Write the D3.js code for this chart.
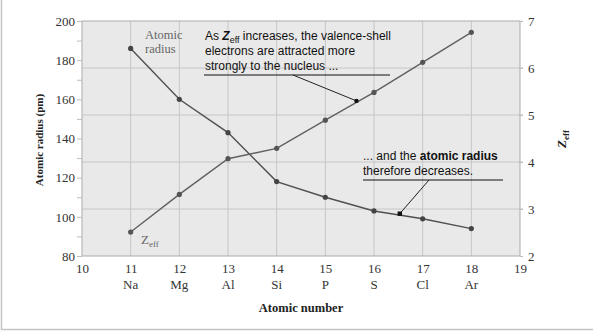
<!DOCTYPE html>
<html><head><meta charset="utf-8">
<script src="https://cdn.jsdelivr.net/npm/d3@7"></script>
<style>
html,body{margin:0;padding:0;background:#fff;}
svg{display:block;}
.tk text{font-family:'Liberation Serif','DejaVu Serif',serif;font-size:13px;fill:#333;}
</style></head>
<body>
<svg id="chart" width="593" height="331"></svg>
<script>
const atomicNumbers = [11, 12, 13, 14, 15, 16, 17, 18];
const symbols = ["Na", "Mg", "Al", "Si", "P", "S", "Cl", "Ar"];
const atomicRadius = [186, 160, 143, 118, 110, 103, 99, 94];
const zeff = [2.51, 3.31, 4.07, 4.29, 4.89, 5.48, 6.12, 6.76];
const xTicks = [10, 11, 12, 13, 14, 15, 16, 17, 18, 19];
const radiusTicks = [80, 100, 120, 140, 160, 180, 200];
const zeffTicks = [2, 3, 4, 5, 6, 7];

const svg = d3.select("#chart");
const m = {l: 82, r: 520, t: 21, b: 256};
const serif = "'Liberation Serif','DejaVu Serif',serif";
const sans = "'Liberation Sans',Arial,sans-serif";

const x = d3.scaleLinear().domain([10, 19]).range([m.l, m.r]);
const yR = d3.scaleLinear().domain([80, 200]).range([m.b, m.t]);
const yZ = d3.scaleLinear().domain([2, 7]).range([m.b, m.t]);

// outer frame
svg.append("rect").attr("x", 1.5).attr("y", -5).attr("width", 600).attr("height", 334.5)
  .attr("fill", "none").attr("stroke", "#c4c4c4").attr("stroke-width", 1.5);

// plot bg
svg.append("rect").attr("x", m.l).attr("y", m.t).attr("width", m.r - m.l).attr("height", m.b - m.t)
  .attr("fill", "#e9e9e9");

// grid
const g = svg.append("g");
g.selectAll(".vg").data(atomicNumbers).join("line")
  .attr("x1", d => x(d)).attr("x2", d => x(d)).attr("y1", m.t).attr("y2", m.b)
  .attr("stroke", "#c6c6c6").attr("stroke-width", 1);
g.selectAll(".hg").data(zeffTicks.slice(1, -1)).join("line")
  .attr("x1", m.l).attr("x2", m.r + 3).attr("y1", d => yZ(d)).attr("y2", d => yZ(d))
  .attr("stroke", "#c6c6c6").attr("stroke-width", 1);

svg.append("rect").attr("x", m.l).attr("y", m.t).attr("width", m.r - m.l).attr("height", m.b - m.t)
  .attr("fill", "none").attr("stroke", "#ababab").attr("stroke-width", 1);

// left axis
const leftAxis = d3.axisLeft(yR).tickValues(d3.range(80, 201, 10)).tickSize(5)
  .tickFormat(d => radiusTicks.includes(d) ? d3.format("d")(d) : "");
const la = svg.append("g").attr("class", "tk").attr("transform", `translate(${m.l},0)`).call(leftAxis)
  .attr("font-family", null).attr("font-size", null);
la.select(".domain").remove();
la.selectAll("line").attr("stroke", "#bdbdbd");
la.selectAll("text").attr("x", -7);

// right axis
const rightAxis = d3.axisRight(yZ).tickValues(zeffTicks).tickSize(3).tickFormat(d3.format("d"));
const ra = svg.append("g").attr("class", "tk").attr("transform", `translate(${m.r},0)`).call(rightAxis)
  .attr("font-family", null).attr("font-size", null);
ra.select(".domain").remove();
ra.selectAll("line").attr("stroke", "#bdbdbd");
ra.selectAll("text").attr("x", 8);

// bottom axis
const bottomAxis = d3.axisBottom(x).tickValues(xTicks).tickSize(0).tickFormat(d3.format("d"));
const ba = svg.append("g").attr("class", "tk").attr("transform", `translate(0,${m.b})`).call(bottomAxis)
  .attr("font-family", null).attr("font-size", null);
ba.select(".domain").remove();
ba.selectAll("text").attr("y", 8).attr("dy", "0.71em");
svg.selectAll(".sym").data(symbols).join("text")
  .attr("x", (d, i) => x(atomicNumbers[i])).attr("y", 289).attr("text-anchor", "middle")
  .attr("font-family", serif).attr("font-size", 13).attr("fill", "#333").text(d => d);

// axis titles
svg.append("text").attr("x", 301).attr("y", 312).attr("text-anchor", "middle")
  .attr("font-family", serif).attr("font-size", 12.5).attr("font-weight", "bold").attr("fill", "#222")
  .text("Atomic number");
svg.append("text").attr("transform", "translate(43,140) rotate(-90)").attr("text-anchor", "middle")
  .attr("font-family", serif).attr("font-size", 11).attr("font-weight", "bold").attr("fill", "#222")
  .text("Atomic radius (pm)");
const zt = svg.append("text").attr("transform", "translate(566,139) rotate(-90)").attr("text-anchor", "middle")
  .attr("font-family", serif).attr("font-size", 13).attr("font-weight", "bold").attr("fill", "#222");
zt.append("tspan").attr("font-style", "italic").text("Z");
zt.append("tspan").attr("font-size", 9).attr("dy", 3).text("eff");

// lines
const lineR = d3.line().x((d, i) => x(atomicNumbers[i])).y(d => yR(d));
const lineZ = d3.line().x((d, i) => x(atomicNumbers[i])).y(d => yZ(d));
svg.append("path").attr("d", lineR(atomicRadius)).attr("fill", "none").attr("stroke", "#505050").attr("stroke-width", 1.4);
svg.append("path").attr("d", lineZ(zeff)).attr("fill", "none").attr("stroke", "#606060").attr("stroke-width", 1.4);
svg.selectAll(".pr").data(atomicRadius).join("circle")
  .attr("cx", (d, i) => x(atomicNumbers[i])).attr("cy", d => yR(d)).attr("r", 2.6).attr("fill", "#444");
svg.selectAll(".pz").data(zeff).join("circle")
  .attr("cx", (d, i) => x(atomicNumbers[i])).attr("cy", d => yZ(d)).attr("r", 2.6).attr("fill", "#555");

// series labels
svg.append("text").attr("x", 145).attr("y", 39).attr("font-family", serif).attr("font-size", 12.5).attr("fill", "#666").text("Atomic");
svg.append("text").attr("x", 145).attr("y", 53).attr("font-family", serif).attr("font-size", 12.5).attr("fill", "#666").text("radius");
const zl = svg.append("text").attr("x", 141).attr("y", 244).attr("font-family", serif).attr("font-size", 13).attr("fill", "#666");
zl.append("tspan").text("Z");
zl.append("tspan").attr("font-size", 9).attr("dy", 3).text("eff");

// annotation 1
const a1 = svg.append("g").attr("font-family", sans).attr("font-size", 12).attr("fill", "#111");
const t1 = a1.append("text").attr("x", 205).attr("y", 40);
t1.append("tspan").text("As ");
t1.append("tspan").attr("font-style", "italic").attr("font-weight", "bold").text("Z");
t1.append("tspan").attr("font-size", 9).attr("dy", 3).text("eff");
t1.append("tspan").attr("dy", -3).text(" increases, the valence-shell");
a1.append("text").attr("x", 205).attr("y", 55).text("electrons are attracted more");
a1.append("text").attr("x", 205).attr("y", 70).text("strongly to the nucleus ...");
svg.append("line").attr("x1", 204).attr("x2", 390).attr("y1", 75).attr("y2", 75).attr("stroke", "#111").attr("stroke-width", 1);
const p1 = [x(15.64), yZ(5.3)];
svg.append("line").attr("x1", 293).attr("y1", 75).attr("x2", p1[0]).attr("y2", p1[1]).attr("stroke", "#222").attr("stroke-width", 1);
svg.append("circle").attr("cx", p1[0]).attr("cy", p1[1]).attr("r", 2.2).attr("fill", "#111");

// annotation 2
const a2 = svg.append("g").attr("font-family", sans).attr("font-size", 12).attr("fill", "#111");
const t2 = a2.append("text").attr("x", 363).attr("y", 160);
t2.append("tspan").text("... and the ");
t2.append("tspan").attr("font-weight", "bold").text("atomic radius");
a2.append("text").attr("x", 363).attr("y", 175).text("therefore decreases.");
svg.append("line").attr("x1", 363).attr("x2", 503).attr("y1", 180).attr("y2", 180).attr("stroke", "#111").attr("stroke-width", 1);
const p2 = [x(16.53), yR(101.6)];
svg.append("line").attr("x1", 429).attr("y1", 180).attr("x2", p2[0]).attr("y2", p2[1]).attr("stroke", "#222").attr("stroke-width", 1);
svg.append("rect").attr("x", p2[0] - 2.2).attr("y", p2[1] - 2.2).attr("width", 4.4).attr("height", 4.4).attr("fill", "#111");
</script>
</body></html>
